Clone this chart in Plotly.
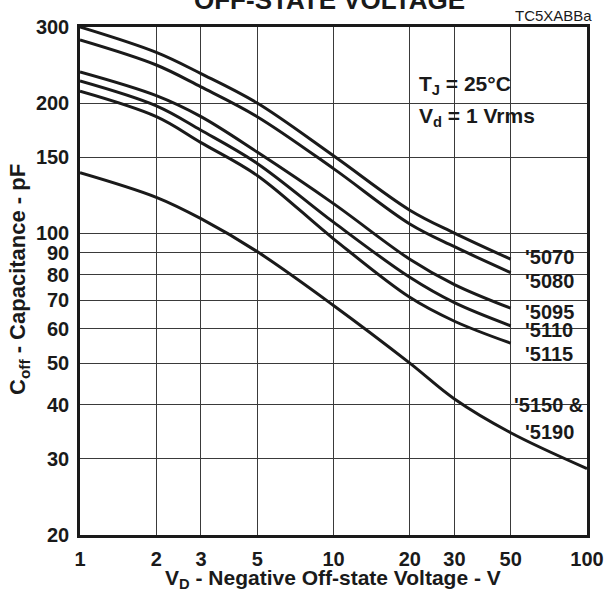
import plotly.graph_objects as go
import numpy as np

# Data
v_main = [1, 2, 3, 5, 10, 20, 30, 50]
c_5070 = [300, 262, 234, 200, 151, 113, 100, 87]
c_5080 = [280, 245, 218, 186, 141, 105, 93, 81]
c_5095 = [236, 208, 186, 154, 117, 87, 76, 67]
c_5110 = [225, 197, 173, 145, 106, 79, 69, 61]
c_5115 = [213, 186, 162, 136, 97, 71, 62.5, 55.6]
v_5150 = [1, 2, 3, 5, 10, 20, 30, 50, 100]
c_5150 = [138, 121, 108, 90.6, 68, 50, 41.3, 34.5, 28.5]

x_ticks = [1, 2, 3, 5, 10, 20, 30, 50, 100]
y_ticks = [20, 30, 40, 50, 60, 70, 80, 90, 100, 150, 200, 300]

FONT = "Liberation Sans, Arial, Helvetica, sans-serif"
INK = "#1a1a1a"
LINE = dict(color=INK, width=3, shape="spline", smoothing=1.0)

fig = go.Figure()
for xs, ys in [(v_main, c_5070), (v_main, c_5080), (v_main, c_5095),
               (v_main, c_5110), (v_main, c_5115), (v_5150, c_5150)]:
    fig.add_trace(go.Scatter(x=xs, y=ys, mode="lines", line=LINE,
                             hoverinfo="skip", showlegend=False))

W, H = 605, 601
L, R, T, B = 80, 18, 27, 66
pw, ph = W - L - R, H - T - B

def px(xp):
    return (xp - L) / pw

def py(yp):
    return 1 - (yp - T) / ph

axis_common = dict(
    showline=True, mirror=True, linecolor=INK, linewidth=2.5,
    showgrid=True, gridcolor="#3a3a3a", gridwidth=1.3,
    zeroline=False, ticks="", automargin=False,
    tickfont=dict(family=FONT, size=20, color=INK, weight="bold"),
)

fig.update_xaxes(type="log", range=[0, 2], tickvals=x_ticks,
                 ticktext=[str(v) for v in x_ticks], ticklabelstandoff=4,
                 **axis_common)
fig.update_yaxes(type="log", range=[np.log10(20), np.log10(300)], tickvals=y_ticks,
                 ticktext=[str(v) for v in y_ticks], ticklabelstandoff=4,
                 **axis_common)

shapes = [
    dict(type="rect", xref="paper", yref="paper", x0=px(412), x1=px(545),
         y0=py(140), y1=py(63), fillcolor="white", line=dict(width=0), layer="between"),
    dict(type="rect", xref="paper", yref="paper", x0=px(513), x1=px(582),
         y0=py(372), y1=py(250), fillcolor="white", line=dict(width=0), layer="between"),
    dict(type="rect", xref="paper", yref="paper", x0=px(513), x1=px(583),
         y0=py(416), y1=py(396), fillcolor="white", line=dict(width=0), layer="between"),
]

lab_font = dict(family=FONT, size=20, color=INK, weight="bold")
annotations = [
    dict(text="OFF-STATE VOLTAGE", x=px(329), y=py(17), xref="paper", yref="paper",
         xanchor="center", yanchor="bottom", showarrow=False,
         font=dict(family=FONT, size=26, color=INK, weight="bold")),
    dict(text="TC5XABBa", x=px(594), y=py(15), xref="paper", yref="paper",
         xanchor="right", yanchor="middle", showarrow=False,
         font=dict(family=FONT, size=15, color=INK)),
    dict(text="T<sub>J</sub> = 25°C", x=px(417), y=py(85), xref="paper", yref="paper",
         xanchor="left", yanchor="middle", showarrow=False,
         font=dict(family=FONT, size=21, color=INK, weight="bold")),
    dict(text="V<sub>d</sub> = 1 Vrms", x=px(417), y=py(117), xref="paper", yref="paper",
         xanchor="left", yanchor="middle", showarrow=False,
         font=dict(family=FONT, size=21, color=INK, weight="bold")),
    dict(text="V<sub>D</sub> - Negative Off-state Voltage - V", x=px(333), y=py(579),
         xref="paper", yref="paper", xanchor="center", yanchor="middle", showarrow=False,
         font=dict(family=FONT, size=21, color=INK, weight="bold")),
    dict(text="C<sub>off</sub> - Capacitance - pF", x=px(19), y=py(280), textangle=-90,
         xref="paper", yref="paper", xanchor="center", yanchor="middle", showarrow=False,
         font=dict(family=FONT, size=22, color=INK, weight="bold")),
]
for txt, xl, yp in [("'5070", 523, 257), ("'5080", 523, 281), ("'5095", 523, 312),
                    ("'5110", 523, 330), ("'5115", 523, 354),
                    ("'5150 &", 512, 405), ("'5190", 523, 432)]:
    annotations.append(dict(text=txt, x=px(xl), y=py(yp), xref="paper", yref="paper",
                            xanchor="left", yanchor="middle", showarrow=False,
                            font=lab_font))

fig.update_layout(
    width=W, height=H, margin=dict(l=L, r=R, t=T, b=B),
    paper_bgcolor="white", plot_bgcolor="white",
    shapes=shapes, annotations=annotations, showlegend=False,
)

fig.write_html("out.html", config={"displayModeBar": False},
               post_script="document.body.style.margin='0';document.body.style.overflow='hidden';")
